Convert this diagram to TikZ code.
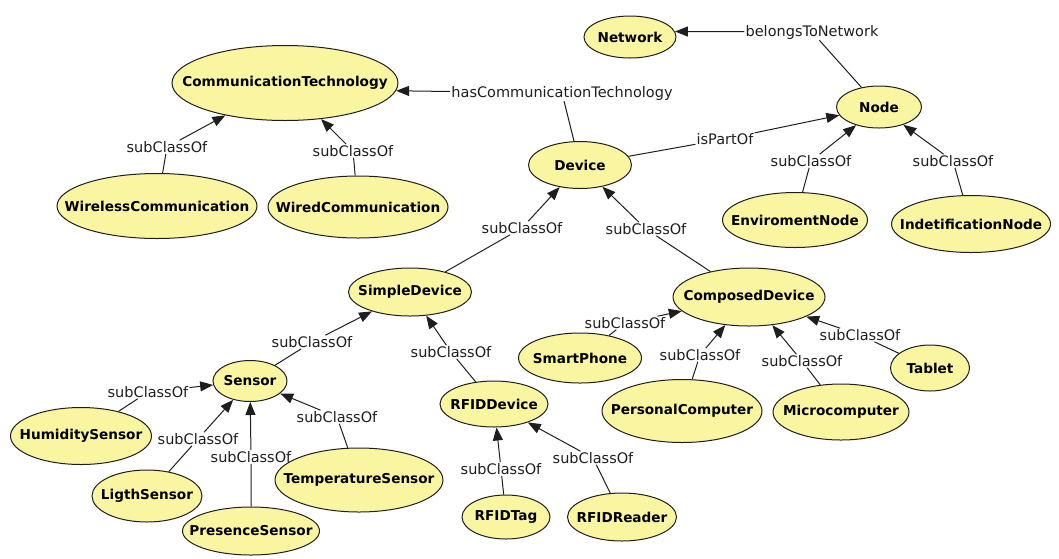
\documentclass[tikz,border=0pt]{standalone}
\usepackage{fontspec}
\setmainfont{DejaVu Sans}
\usepackage{tikz}
\usetikzlibrary{shapes,arrows.meta}
\definecolor{classfill}{RGB}{249,245,160}
\definecolor{edgegray}{RGB}{30,30,30}
% class name set without width, so the ellipse keeps its given size
\newcommand{\clsname}[1]{\makebox[0pt]{#1}}

\begin{document}
\begin{tikzpicture}[x=1pt,y=-1pt]
\tikzstyle{every node}=[font=\fontsize{14.5}{16}\selectfont]
\tikzstyle{cls}=[ellipse,draw=edgegray,line width=1pt,fill=classfill,inner sep=0pt,font=\fontsize{13.6}{15}\selectfont\bfseries]
\tikzstyle{rel}=[inner sep=1pt,text=edgegray]
\tikzstyle{link}=[draw=edgegray,line width=1pt,-{Triangle[length=13pt,width=10pt]}]
\useasboundingbox (0,0) rectangle (1059,558);
% classes
\node [cls,minimum width=92,minimum height=42] (network) at (630,37) {\clsname{Network}};
\node [cls,minimum width=226,minimum height=75] (commtech) at (285,83) {\clsname{CommunicationTechnology}};
\node [cls,minimum width=200,minimum height=65] (wireless) at (157,206) {\clsname{WirelessCommunication}};
\node [cls,minimum width=180,minimum height=62] (wired) at (358,207) {\clsname{WiredCommunication}};
\node [cls,minimum width=85,minimum height=42] (node) at (879,107) {\clsname{Node}};
\node [cls,minimum width=103,minimum height=47] (device) at (580,165) {\clsname{Device}};
\node [cls,minimum width=145,minimum height=55] (envnode) at (795,220) {\clsname{EnviromentNode}};
\node [cls,minimum width=159,minimum height=57] (idnode) at (971,224) {\clsname{IndetificationNode}};
\node [cls,minimum width=123,minimum height=48] (simpledev) at (410,292) {\clsname{SimpleDevice}};
\node [cls,minimum width=152,minimum height=58] (composed) at (749,297) {\clsname{ComposedDevice}};
\node [cls,minimum width=74,minimum height=41] (sensor) at (250,381) {\clsname{Sensor}};
\node [cls,minimum width=141,minimum height=57] (humidity) at (81,436) {\clsname{HumiditySensor}};
\node [cls,minimum width=110,minimum height=52] (ligth) at (147,496) {\clsname{LigthSensor}};
\node [cls,minimum width=137,minimum height=48] (presence) at (251,531) {\clsname{PresenceSensor}};
\node [cls,minimum width=168,minimum height=64] (temperature) at (359,480) {\clsname{TemperatureSensor}};
\node [cls,minimum width=108,minimum height=46] (rfiddev) at (494,404) {\clsname{RFIDDevice}};
\node [cls,minimum width=88,minimum height=44] (rfidtag) at (506,517) {\clsname{RFIDTag}};
\node [cls,minimum width=109,minimum height=48] (rfidreader) at (622,517) {\clsname{RFIDReader}};
\node [cls,minimum width=123,minimum height=50] (smartphone) at (580,358) {\clsname{SmartPhone}};
\node [cls,minimum width=160,minimum height=63] (pc) at (682,411) {\clsname{PersonalComputer}};
\node [cls,minimum width=136,minimum height=56] (micro) at (841,412) {\clsname{Microcomputer}};
\node [cls,minimum width=79,minimum height=46] (tablet) at (930,368) {\clsname{Tablet}};
% relation labels
\node [rel] (belongs) at (812,32) {belongsToNetwork};
\node [rel] (hascomm) at (562,93) {hasCommunicationTechnology};
\node [rel] (ispart) at (725,139) {isPartOf};
\node [rel] (scWireless) at (167,147) {subClassOf};
\node [rel] (scWired) at (353,151) {subClassOf};
\node [rel] (scEnv) at (811,161) {subClassOf};
\node [rel] (scId) at (953,161) {subClassOf};
\node [rel] (scSimple) at (522,228) {subClassOf};
\node [rel] (scComposed) at (646,229) {subClassOf};
\node [rel] (scSensor) at (312,342) {subClassOf};
\node [rel] (scRfid) at (451,352) {subClassOf};
\node [rel] (scHumidity) at (148,392) {subClassOf};
\node [rel] (scLigth) at (198,439) {subClassOf};
\node [rel] (scPresence) at (251,457) {subClassOf};
\node [rel] (scTemp) at (337,417) {subClassOf};
\node [rel] (scTag) at (501,469) {subClassOf};
\node [rel] (scReader) at (593,458) {subClassOf};
\node [rel] (scPhone) at (625,323) {subClassOf};
\node [rel] (scPc) at (700,355) {subClassOf};
\node [rel] (scMicro) at (802,361) {subClassOf};
\node [rel] (scTablet) at (860,335) {subClassOf};
% object properties
\draw [link] (node) -- (belongs) -- (network.7);
\draw [link] (device) -- (hascomm) -- (commtech.-4);
\draw [link] (device) -- (ispart) -- (node);
% subclass links
\draw [link] (wireless) -- (scWireless) -- (commtech);
\draw [link] (wired) -- (scWired) -- (commtech);
\draw [link] (envnode) -- (scEnv) -- (node);
\draw [link] (idnode) -- (scId) -- (node);
\draw [link] (simpledev) -- (scSimple) -- (device);
\draw [link] (composed) -- (scComposed) -- (device);
\draw [link] (sensor) -- (scSensor) -- (simpledev);
\draw [link] (rfiddev) -- (scRfid) -- (simpledev);
\draw [link] (humidity) -- (scHumidity) -- (sensor);
\draw [link] (ligth) -- (scLigth) -- (sensor);
\draw [link] (presence) -- (scPresence) -- (sensor);
\draw [link] (temperature) -- (scTemp) -- (sensor);
\draw [link] (rfidtag) -- (scTag) -- (rfiddev);
\draw [link] (rfidreader) -- (scReader) -- (rfiddev);
\draw [link] (smartphone) -- (scPhone) -- (composed);
\draw [link] (pc) -- (scPc) -- (composed);
\draw [link] (micro) -- (scMicro) -- (composed);
\draw [link] (tablet) -- (scTablet) -- (composed);
\end{tikzpicture}
\end{document}
